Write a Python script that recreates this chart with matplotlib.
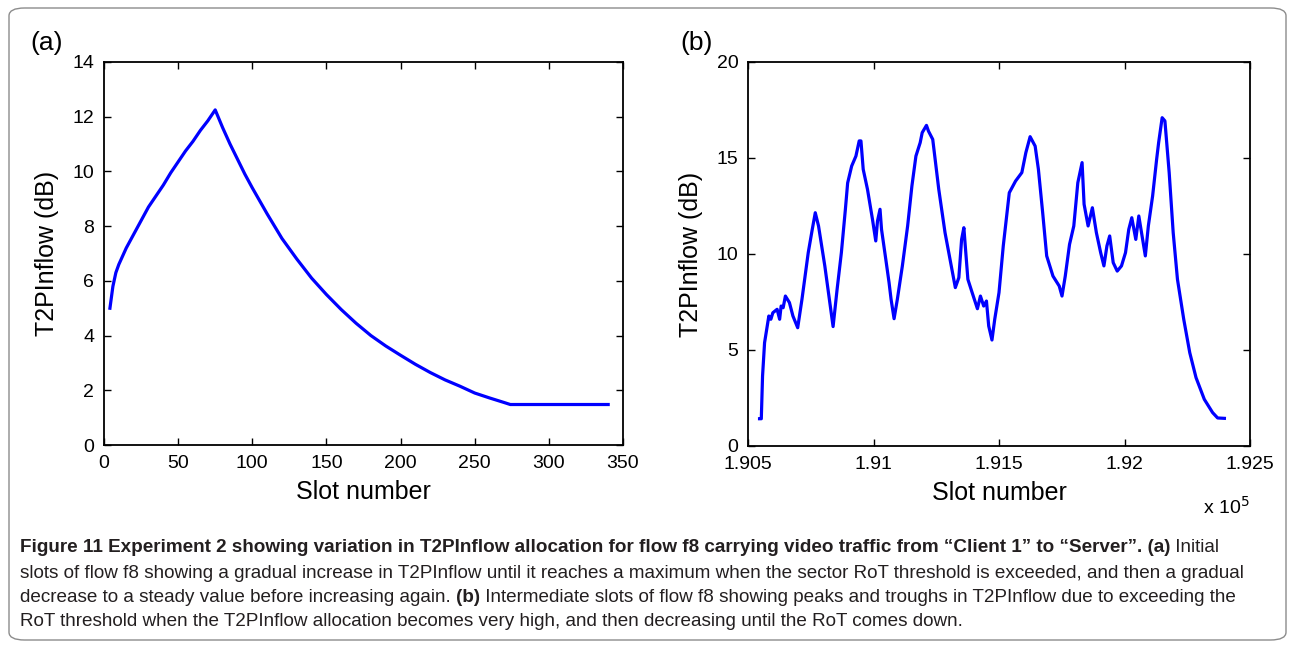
import numpy as np
import matplotlib.pyplot as plt
from matplotlib.patches import FancyBboxPatch

W, H = 1294, 652

# panel (a): slot number vs T2PInflow (dB)
slots_a = [4, 6, 8, 10, 15, 20, 25, 30, 35, 40, 45, 50, 55, 60, 65, 70, 75,
           80, 85, 90, 95, 100, 110, 120, 130, 140, 150, 160, 170, 180, 190,
           200, 210, 220, 230, 240, 250, 260, 270, 274, 340]
t2p_a = [5.0, 5.8, 6.3, 6.6, 7.2, 7.7, 8.2, 8.7, 9.1, 9.5, 9.95, 10.35, 10.75,
         11.1, 11.5, 11.85, 12.25, 11.6, 11.0, 10.45, 9.9, 9.4, 8.45, 7.55,
         6.8, 6.1, 5.5, 4.95, 4.45, 4.0, 3.62, 3.28, 2.95, 2.65, 2.38, 2.15,
         1.9, 1.72, 1.55, 1.48, 1.48]

# panel (b): intermediate slots
slots_b = [190546, 190553, 190558, 190566, 190583, 190591, 190599, 190616,
           190626, 190632, 190640, 190649, 190665, 190679, 190698, 190715,
           190740, 190756, 190768, 190781, 190806, 190839, 190855, 190872,
           190888, 190897, 190913, 190930, 190943, 190950, 190959, 190976,
           190996, 191009, 191016, 191026, 191032, 191049, 191062, 191070,
           191082, 191095, 191115, 191136, 191153, 191169, 191186, 191194,
           191211, 191219, 191236, 191260, 191285, 191326, 191340, 191351,
           191360, 191376, 191393, 191414, 191426, 191439, 191450, 191459,
           191472, 191483, 191500, 191517, 191541, 191566, 191591, 191607,
           191624, 191644, 191657, 191674, 191690, 191715, 191740, 191751,
           191764, 191781, 191798, 191814, 191831, 191839, 191855, 191872,
           191888, 191905, 191918, 191930, 191941, 191955, 191971, 191988,
           192004, 192017, 192029, 192045, 192057, 192070, 192083, 192095,
           192112, 192128, 192136, 192150, 192161, 192178, 192194, 192211,
           192236, 192260, 192285, 192318, 192351, 192371, 192398]
t2p_b = [1.42, 1.42, 3.65, 5.38, 6.77, 6.6, 6.94, 7.12, 6.6, 7.29, 7.2, 7.81,
         7.47, 6.77, 6.16, 7.64, 10.07, 11.28, 12.15, 11.46, 9.38, 6.22, 8.16,
         10.07, 12.33, 13.7, 14.58, 15.1, 15.89, 15.89, 14.41, 13.37, 11.8,
         10.68, 11.72, 12.33, 11.28, 9.72, 8.51, 7.64, 6.63, 7.64, 9.38, 11.46,
         13.54, 15.1, 15.8, 16.32, 16.7, 16.4, 15.97, 13.37, 11.11, 8.25, 8.77,
         10.76, 11.37, 8.68, 7.99, 7.15, 7.81, 7.29, 7.55, 6.25, 5.52, 6.6,
         7.99, 10.42, 13.19, 13.8, 14.24, 15.28, 16.11, 15.62, 14.41, 12.15,
         9.9, 8.85, 8.33, 7.81, 8.85, 10.5, 11.46, 13.71, 14.76, 12.59, 11.46,
         12.41, 11.11, 10.07, 9.38, 10.42, 10.94, 9.55, 9.11, 9.38, 10.07,
         11.28, 11.89, 10.76, 11.98, 10.94, 9.9, 11.46, 13.02, 14.93, 15.8,
         17.1, 16.93, 14.24, 11.11, 8.68, 6.6, 4.86, 3.56, 2.43, 1.74, 1.46,
         1.44]

xticks_b = [1.905, 1.91, 1.915, 1.92, 1.925]
xticklabels_b = ['1.905', '1.91', '1.915', '1.92', '1.925']

plt.rcParams['font.family'] = ['Liberation Sans', 'DejaVu Sans']

fig = plt.figure(figsize=(W / 100, H / 100), dpi=100)


def fx(px):
    return px / W


def fy(py):
    return 1 - py / H


# outer rounded frame
frame = FancyBboxPatch((fx(9), fy(640)), fx(1277), (632) / H,
                       boxstyle='round,pad=0,rounding_size=0.012',
                       transform=fig.transFigure, fill=False,
                       edgecolor='#8c8c8c', linewidth=1.0)
fig.patches.append(frame)


def style_axes(ax):
    ax.tick_params(direction='in', length=5, width=1, labelsize=14,
                   top=True, right=True, pad=7, colors='black')
    for s in ax.spines.values():
        s.set_linewidth(1.3)


# panel (a)
ax1 = fig.add_axes([fx(104), fy(445), fx(623) - fx(104), fy(62) - fy(445)])
ax1.plot(slots_a, t2p_a, color='blue', linewidth=2.3)
ax1.set_xlim(0, 350)
ax1.set_ylim(0, 14)
ax1.set_xticks(np.arange(0, 351, 50))
ax1.set_yticks(np.arange(0, 15, 2))
style_axes(ax1)
ax1.set_xlabel('Slot number', fontsize=18, labelpad=6)
ax1.set_ylabel('T2PInflow (dB)', fontsize=18, labelpad=10)

# panel (b)
ax2 = fig.add_axes([fx(748), fy(446), fx(1250) - fx(748), fy(62) - fy(446)])
ax2.plot(np.array(slots_b) / 1e5, t2p_b, color='blue', linewidth=2.3)
ax2.set_xlim(1.905, 1.925)
ax2.set_ylim(0, 20)
ax2.set_xticks(xticks_b)
ax2.set_xticklabels(xticklabels_b)
ax2.set_yticks([0, 5, 10, 15, 20])
style_axes(ax2)
ax2.set_xlabel('Slot number', fontsize=18, labelpad=6)
ax2.set_ylabel('T2PInflow (dB)', fontsize=18, labelpad=10)

fig.text(fx(1250), fy(507), r'x 10$^5$', fontsize=14, ha='right', va='center')

fig.text(fx(30), fy(43), '(a)', fontsize=19, ha='left', va='center')
fig.text(fx(680), fy(43), '(b)', fontsize=19, ha='left', va='center')

# caption, drawn run by run so bold and regular can share a line
cap_lines = [
    [('Figure 11 Experiment 2 showing variation in T2PInflow allocation for flow f8 carrying video traffic from \u201cClient 1\u201d to \u201cServer\u201d. (a)', 'bold'),
     (' Initial', 'normal')],
    [('slots of flow f8 showing a gradual increase in T2PInflow until it reaches a maximum when the sector RoT threshold is exceeded, and then a gradual', 'normal')],
    [('decrease to a steady value before increasing again. ', 'normal'), ('(b)', 'bold'),
     (' Intermediate slots of flow f8 showing peaks and troughs in T2PInflow due to exceeding the', 'normal')],
    [('RoT threshold when the T2PInflow allocation becomes very high, and then decreasing until the RoT comes down.', 'normal')],
]
cap_y = [548, 573, 598, 622]

renderer = fig.canvas.get_renderer()
for runs, y in zip(cap_lines, cap_y):
    x = 20
    for txt, wt in runs:
        t = fig.text(fx(x), fy(y), txt, fontsize=13.6, fontweight=wt,
                     ha='left', va='center', color='#231f20')
        bb = t.get_window_extent(renderer=renderer)
        x += bb.width

fig.savefig('out.png', dpi=100)
